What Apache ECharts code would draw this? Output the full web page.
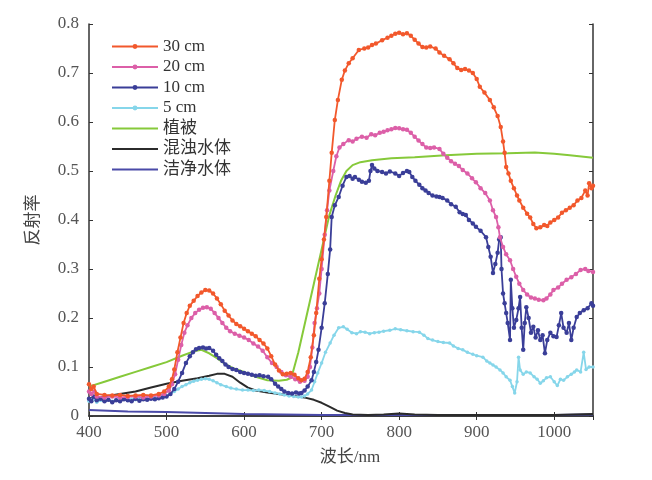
<!DOCTYPE html>
<html>
<head>
<meta charset="utf-8">
<script src="https://cdn.jsdelivr.net/npm/echarts@6/dist/echarts.min.js"></script>
<style>
html, body { margin: 0; padding: 0; background: #fff; }
#container { width: 652px; height: 480px; }
</style>
</head>
<body>
<div id="container"></div>
<script>
// 图例名称
var names = ['30 cm', '20 cm', '10 cm', '5 cm', '植被', '混浊水体', '洁净水体'];
var colors = ['#f2582c', '#dc5fa8', '#3a3e98', '#86d6ea', '#86c93a', '#2b2b2b', '#4a4aa8'];

// [波长 nm, 反射率]
var d30 = [[400,0.065],[403,0.055],[406,0.06],[410,0.045],[420,0.043],[430,0.042],[440,0.043],[450,0.041],[460,0.042],[470,0.043],[480,0.042],[490,0.045],[497,0.05],[503,0.06],[507,0.075],[510,0.095],[514,0.13],[518,0.16],[522,0.19],[526,0.21],[530,0.225],[535,0.235],[540,0.245],[545,0.252],[550,0.257],[555,0.256],[560,0.25],[565,0.24],[570,0.228],[575,0.215],[580,0.205],[585,0.195],[590,0.188],[595,0.183],[600,0.178],[605,0.173],[610,0.168],[615,0.163],[620,0.155],[625,0.148],[630,0.138],[635,0.122],[640,0.105],[645,0.093],[650,0.085],[655,0.086],[660,0.088],[665,0.084],[670,0.077],[674,0.073],[678,0.076],[682,0.09],[686,0.12],[690,0.165],[693,0.21],[697,0.28],[700,0.32],[703,0.36],[706,0.406],[710,0.48],[713,0.537],[717,0.604],[721,0.645],[726,0.686],[730,0.705],[735,0.72],[740,0.73],[748,0.747],[755,0.75],[760,0.752],[765,0.757],[770,0.76],[778,0.767],[785,0.772],[790,0.776],[795,0.78],[800,0.782],[805,0.779],[810,0.781],[815,0.776],[820,0.768],[825,0.76],[830,0.753],[835,0.752],[840,0.754],[847,0.75],[852,0.742],[858,0.735],[865,0.728],[870,0.72],[875,0.71],[880,0.706],[885,0.708],[890,0.705],[895,0.7],[900,0.688],[904,0.672],[910,0.66],[917,0.645],[922,0.63],[927,0.612],[931,0.59],[934,0.56],[936,0.537],[938,0.508],[941,0.495],[944,0.48],[948,0.465],[952,0.45],[955,0.44],[960,0.425],[965,0.413],[969,0.405],[973,0.392],[977,0.383],[982,0.385],[987,0.39],[991,0.388],[995,0.395],[1000,0.4],[1005,0.405],[1010,0.415],[1015,0.42],[1020,0.425],[1025,0.43],[1030,0.44],[1035,0.445],[1040,0.46],[1043,0.45],[1045,0.475],[1048,0.465],[1050,0.47]];

var d20 = [[400,0.05],[403,0.045],[407,0.05],[410,0.04],[420,0.038],[430,0.04],[440,0.038],[450,0.039],[460,0.04],[470,0.038],[480,0.04],[490,0.042],[497,0.045],[503,0.052],[507,0.065],[511,0.085],[515,0.115],[519,0.145],[523,0.17],[527,0.185],[532,0.2],[537,0.21],[542,0.217],[547,0.221],[552,0.222],[557,0.219],[562,0.21],[567,0.2],[572,0.19],[577,0.18],[582,0.173],[588,0.168],[594,0.164],[600,0.16],[606,0.155],[612,0.148],[618,0.142],[624,0.133],[630,0.12],[636,0.108],[642,0.1],[648,0.09],[654,0.083],[660,0.08],[666,0.075],[672,0.07],[678,0.072],[682,0.08],[685,0.1],[688,0.14],[691,0.19],[694,0.22],[697,0.25],[700,0.3],[704,0.37],[707,0.42],[710,0.46],[715,0.5],[719,0.53],[723,0.548],[728,0.555],[735,0.563],[740,0.56],[745,0.566],[752,0.57],[758,0.568],[764,0.575],[769,0.573],[775,0.578],[780,0.58],[785,0.583],[790,0.585],[795,0.588],[800,0.587],[805,0.585],[810,0.584],[815,0.578],[820,0.57],[825,0.562],[830,0.555],[835,0.548],[840,0.547],[845,0.548],[852,0.545],[857,0.535],[862,0.527],[867,0.52],[872,0.515],[877,0.51],[882,0.502],[888,0.495],[894,0.485],[899,0.477],[905,0.465],[911,0.455],[917,0.44],[921,0.42],[925,0.406],[928,0.385],[930,0.365],[934,0.345],[938,0.33],[943,0.318],[947,0.3],[951,0.284],[955,0.27],[960,0.257],[965,0.248],[970,0.242],[975,0.24],[980,0.237],[986,0.236],[990,0.24],[995,0.248],[999,0.257],[1005,0.262],[1010,0.27],[1016,0.278],[1022,0.283],[1028,0.29],[1034,0.298],[1040,0.3],[1044,0.296],[1050,0.294]];

var d10 = [[400,0.035],[403,0.03],[406,0.04],[410,0.032],[415,0.035],[420,0.03],[425,0.033],[430,0.028],[435,0.032],[440,0.03],[445,0.034],[450,0.032],[455,0.03],[460,0.035],[465,0.031],[470,0.034],[475,0.033],[480,0.035],[485,0.034],[490,0.036],[495,0.038],[500,0.04],[505,0.045],[510,0.055],[515,0.07],[520,0.088],[525,0.108],[530,0.122],[534,0.13],[538,0.136],[542,0.139],[547,0.14],[551,0.138],[555,0.139],[560,0.133],[564,0.125],[568,0.118],[572,0.112],[576,0.105],[580,0.1],[585,0.096],[590,0.094],[595,0.09],[600,0.088],[605,0.086],[610,0.084],[615,0.082],[620,0.083],[625,0.081],[631,0.08],[635,0.075],[640,0.066],[644,0.06],[648,0.055],[652,0.05],[657,0.047],[662,0.046],[667,0.048],[671,0.046],[674,0.047],[678,0.052],[682,0.06],[687,0.073],[690,0.09],[693,0.11],[696,0.135],[700,0.18],[704,0.23],[708,0.29],[711,0.34],[713,0.406],[717,0.43],[722,0.447],[727,0.47],[732,0.488],[736,0.49],[740,0.484],[743,0.488],[748,0.482],[752,0.478],[757,0.476],[761,0.48],[763,0.5],[765,0.512],[768,0.505],[772,0.5],[778,0.498],[783,0.495],[788,0.499],[795,0.495],[800,0.49],[805,0.496],[810,0.5],[813,0.498],[817,0.488],[821,0.48],[826,0.472],[830,0.465],[834,0.46],[838,0.455],[843,0.45],[848,0.448],[852,0.447],[856,0.445],[862,0.44],[867,0.432],[873,0.427],[878,0.416],[882,0.412],[886,0.41],[890,0.4],[895,0.393],[899,0.386],[905,0.378],[912,0.365],[915,0.345],[918,0.325],[921,0.292],[924,0.31],[927,0.333],[929,0.36],[931,0.365],[932,0.3],[934,0.25],[936,0.23],[938,0.21],[940,0.19],[943,0.155],[944,0.278],[946,0.22],[948,0.18],[951,0.196],[954,0.22],[956,0.243],[958,0.18],[960,0.135],[962,0.19],[964,0.222],[967,0.2],[970,0.17],[973,0.182],[976,0.16],[979,0.175],[982,0.155],[985,0.165],[988,0.128],[991,0.155],[995,0.17],[999,0.163],[1003,0.161],[1006,0.185],[1009,0.21],[1012,0.18],[1016,0.17],[1019,0.19],[1022,0.155],[1025,0.18],[1029,0.202],[1033,0.21],[1038,0.216],[1043,0.22],[1048,0.23],[1050,0.225]];

var d5 = [[400,0.03],[405,0.035],[410,0.028],[415,0.032],[420,0.03],[425,0.034],[430,0.03],[435,0.033],[440,0.031],[445,0.035],[450,0.032],[455,0.034],[460,0.033],[465,0.035],[470,0.034],[475,0.036],[480,0.036],[485,0.037],[490,0.038],[495,0.04],[500,0.042],[505,0.045],[510,0.05],[515,0.055],[520,0.06],[525,0.064],[530,0.068],[535,0.071],[540,0.073],[545,0.075],[550,0.076],[555,0.075],[560,0.072],[565,0.068],[570,0.064],[577,0.06],[583,0.057],[590,0.055],[598,0.053],[605,0.053],[612,0.052],[619,0.053],[626,0.052],[633,0.05],[640,0.047],[646,0.045],[652,0.043],[658,0.041],[664,0.04],[670,0.039],[674,0.039],[678,0.041],[682,0.045],[687,0.053],[691,0.07],[695,0.088],[700,0.108],[705,0.13],[711,0.149],[716,0.165],[722,0.18],[728,0.182],[733,0.177],[739,0.17],[745,0.168],[750,0.172],[756,0.171],[762,0.168],[768,0.17],[774,0.171],[780,0.173],[788,0.175],[795,0.178],[802,0.176],[810,0.174],[818,0.172],[826,0.171],[832,0.165],[837,0.158],[843,0.155],[850,0.152],[857,0.15],[865,0.149],[870,0.143],[876,0.138],[882,0.135],[888,0.13],[895,0.126],[900,0.123],[908,0.12],[913,0.112],[917,0.108],[921,0.104],[925,0.1],[930,0.094],[934,0.088],[938,0.08],[943,0.073],[946,0.06],[949,0.047],[952,0.07],[954,0.12],[956,0.094],[960,0.085],[964,0.09],[969,0.088],[974,0.08],[978,0.075],[982,0.067],[986,0.072],[990,0.078],[995,0.08],[1000,0.07],[1004,0.062],[1008,0.075],[1012,0.073],[1017,0.08],[1022,0.085],[1026,0.09],[1029,0.094],[1034,0.09],[1038,0.13],[1041,0.095],[1045,0.1],[1050,0.1]];

var dVeg = [[400,0.06],[420,0.07],[440,0.08],[460,0.09],[480,0.1],[500,0.11],[520,0.123],[535,0.132],[545,0.135],[555,0.128],[565,0.118],[575,0.107],[585,0.098],[600,0.09],[615,0.08],[630,0.073],[645,0.072],[655,0.074],[661,0.078],[670,0.13],[680,0.2],[690,0.27],[700,0.34],[710,0.41],[718,0.45],[725,0.48],[732,0.5],[740,0.512],[750,0.518],[765,0.522],[790,0.526],[820,0.528],[860,0.532],[900,0.535],[940,0.536],[975,0.538],[1000,0.535],[1020,0.532],[1050,0.527]];

var dTurbid = [[400,0.036],[420,0.04],[440,0.045],[460,0.05],[480,0.058],[500,0.066],[520,0.072],[540,0.077],[555,0.082],[565,0.086],[575,0.086],[585,0.08],[595,0.068],[605,0.058],[615,0.052],[630,0.048],[650,0.044],[665,0.041],[680,0.037],[690,0.033],[700,0.027],[710,0.019],[720,0.011],[730,0.006],[740,0.003],[760,0.002],[780,0.003],[800,0.005],[820,0.003],[850,0.002],[900,0.002],[950,0.002],[1000,0.002],[1050,0.004]];

var dClean = [[400,0.012],[450,0.009],[500,0.008],[550,0.006],[600,0.004],[650,0.003],[700,0.002],[800,0.002],[900,0.002],[1000,0.002],[1050,0.003]];

var allData = [d30, d20, d10, d5, dVeg, dTurbid, dClean];

var serif = '"Liberation Serif", "DejaVu Serif", "Noto Sans CJK SC", serif';
var axisColor = '#333';
var labelColor = '#555';

function makeSeries() {
    var list = [];
    for (var i = 0; i < allData.length; i++) {
        var dotted = i < 4;
        list.push({
            name: names[i],
            type: 'line',
            data: allData[i],
            symbol: dotted ? 'circle' : 'none',
            symbolSize: i == 3 ? 3.5 : 4.5,
            showAllSymbol: true,
            silent: true,
            animation: false,
            itemStyle: { color: colors[i] },
            lineStyle: { color: colors[i], width: dotted ? 1.8 : 2 },
            z: 10 - i
        });
    }
    return list;
}

// 图例：无标记的系列不画圆点
function makeLegendData() {
    var list = [];
    names.forEach(function(item, index) {
        if (index < 4) {
            list.push({ name: item });
        } else {
            list.push({ name: item, itemStyle: { opacity: 0 } });
        }
    });
    return list;
}

var option = {
    backgroundColor: '#fff',
    animation: false,
    grid: { left: 89, right: 59, top: 24, bottom: 64 },
    legend: {
        orient: 'vertical',
        left: 106,
        top: 33,
        itemWidth: 46,
        itemHeight: 6,
        itemGap: 3.5,
        data: makeLegendData(),
        textStyle: { fontFamily: serif, fontSize: 17, color: '#333', lineHeight: 17 }
    },
    xAxis: [{
        type: 'value',
        min: 400,
        max: 1050,
        interval: 100,
        name: '波长/nm',
        nameLocation: 'middle',
        nameGap: 33,
        nameTextStyle: { fontFamily: serif, fontSize: 17, color: '#444', padding: [0, 0, 0, 18] },
        axisLine: { lineStyle: { color: axisColor, width: 1.5 } },
        axisTick: { inside: true, length: 4, lineStyle: { color: axisColor } },
        axisLabel: {
            fontFamily: serif, fontSize: 17, color: labelColor, margin: 8, showMaxLabel: false,
            formatter: function(v) { return String(v); }
        },
        splitLine: { show: false }
    }, {
        type: 'value',
        position: 'top',
        min: 400,
        max: 1050,
        interval: 100,
        axisLine: { lineStyle: { color: axisColor, width: 1.5 } },
        axisTick: { inside: true, length: 4, lineStyle: { color: axisColor } },
        axisLabel: { show: false },
        splitLine: { show: false }
    }],
    yAxis: [{
        type: 'value',
        min: 0,
        max: 0.8,
        interval: 0.1,
        name: '反射率',
        nameLocation: 'middle',
        nameGap: 47,
        nameTextStyle: { fontFamily: serif, fontSize: 17, color: '#444' },
        axisLine: { show: true, lineStyle: { color: axisColor, width: 1.5 } },
        axisTick: { show: true, inside: true, length: 4, lineStyle: { color: axisColor } },
        axisLabel: { fontFamily: serif, fontSize: 17, color: labelColor, margin: 10 },
        splitLine: { show: false }
    }, {
        type: 'value',
        position: 'right',
        min: 0,
        max: 0.8,
        interval: 0.1,
        axisLine: { show: true, lineStyle: { color: axisColor, width: 1.5 } },
        axisTick: { show: true, inside: true, length: 4, lineStyle: { color: axisColor } },
        axisLabel: { show: false },
        splitLine: { show: false }
    }],
    series: makeSeries()
};

var myChart = echarts.init(document.getElementById('container'), null, { renderer: 'canvas' });
myChart.setOption(option);
</script>
</body>
</html>
